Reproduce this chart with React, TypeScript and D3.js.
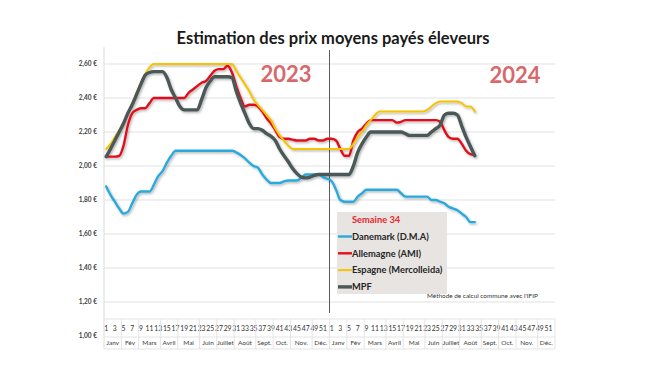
import { useEffect, useRef } from 'react';
import * as d3 from 'd3';

const months = ['Janv', 'Fév', 'Mars', 'Avril', 'Mai', 'Juin', 'Juillet', 'Août', 'Sept.', 'Oct.', 'Nov.', 'Déc.'];
const weeksPerMonth = [4, 4, 5, 4, 5, 4, 4, 5, 4, 4, 5, 4];
const years = ['2023', '2024'];
const yTicks = [1.0, 1.2, 1.4, 1.6, 1.8, 2.0, 2.2, 2.4, 2.6];

// semaines 1..52 de 2023, puis 1..34 de 2024
const danemark2023 = [
  1.88, 1.83, 1.79, 1.75, 1.72, 1.73, 1.78, 1.83, 1.85, 1.85, 1.85, 1.89, 1.94, 1.97, 2.02, 2.06, 2.09,
  2.09, 2.09, 2.09, 2.09, 2.09, 2.09, 2.09, 2.09, 2.09, 2.09, 2.09, 2.09, 2.09, 2.08, 2.065, 2.045, 2.02,
  2.0, 1.99, 1.95, 1.92, 1.9, 1.9, 1.9, 1.91, 1.915, 1.915, 1.915, 1.93, 1.95, 1.95, 1.95, 1.95, 1.935, 1.925,
];
const danemark2024 = [
  1.91, 1.86, 1.8, 1.79, 1.79, 1.79, 1.82, 1.84, 1.86, 1.86, 1.86, 1.86, 1.86, 1.86, 1.86, 1.86, 1.84,
  1.82, 1.82, 1.82, 1.82, 1.82, 1.82, 1.8, 1.8, 1.79, 1.78, 1.76, 1.75, 1.74, 1.72, 1.7, 1.67, 1.67,
];
const allemagne2023 = [
  2.055, 2.055, 2.055, 2.06, 2.12, 2.24, 2.31, 2.33, 2.34, 2.34, 2.37, 2.4, 2.4, 2.4, 2.4, 2.4, 2.4, 2.4,
  2.4, 2.43, 2.45, 2.47, 2.49, 2.5, 2.53, 2.56, 2.57, 2.57, 2.59, 2.55, 2.47, 2.4, 2.35, 2.36, 2.36, 2.35,
  2.32, 2.28, 2.25, 2.21, 2.17, 2.16, 2.16, 2.155, 2.15, 2.15, 2.15, 2.16, 2.16, 2.15, 2.15, 2.16,
];
const allemagne2024 = [
  2.16, 2.15, 2.1, 2.06, 2.06, 2.15, 2.2, 2.22, 2.25, 2.27, 2.27, 2.27, 2.27, 2.27, 2.27, 2.255, 2.26,
  2.27, 2.27, 2.27, 2.27, 2.27, 2.27, 2.27, 2.27, 2.26, 2.21, 2.17, 2.16, 2.16, 2.13, 2.09, 2.07, 2.065,
];
const espagne2023 = [
  2.1, 2.13, 2.17, 2.21, 2.26, 2.31, 2.37, 2.43, 2.49, 2.54, 2.58, 2.6, 2.6, 2.6, 2.6, 2.6, 2.6, 2.6,
  2.6, 2.6, 2.6, 2.6, 2.6, 2.6, 2.6, 2.6, 2.6, 2.6, 2.6, 2.6, 2.56, 2.52, 2.48, 2.44, 2.39, 2.36, 2.33,
  2.3, 2.27, 2.22, 2.18, 2.15, 2.12, 2.1, 2.1, 2.1, 2.1, 2.1, 2.1, 2.1, 2.1, 2.1,
];
const espagne2024 = [
  2.1, 2.1, 2.1, 2.1, 2.1, 2.13, 2.17, 2.2, 2.24, 2.27, 2.3, 2.32, 2.32, 2.32, 2.32, 2.32, 2.32, 2.32,
  2.32, 2.32, 2.32, 2.32, 2.33, 2.35, 2.37, 2.38, 2.38, 2.38, 2.38, 2.38, 2.37, 2.35, 2.35, 2.32,
];
const mpf2023 = [
  2.055, 2.1, 2.15, 2.2, 2.25, 2.31, 2.36, 2.42, 2.48, 2.535, 2.55, 2.555, 2.555, 2.555, 2.52, 2.45, 2.4,
  2.35, 2.33, 2.33, 2.33, 2.33, 2.39, 2.46, 2.5, 2.525, 2.525, 2.525, 2.525, 2.52, 2.44, 2.37, 2.31, 2.25,
  2.22, 2.22, 2.21, 2.19, 2.175, 2.15, 2.1, 2.06, 2.025, 1.985, 1.955, 1.935, 1.93, 1.935, 1.945, 1.95, 1.95, 1.95,
];
const mpf2024 = [
  1.95, 1.95, 1.95, 1.95, 1.95, 2.0, 2.08, 2.13, 2.17, 2.2, 2.2, 2.2, 2.2, 2.2, 2.2, 2.2, 2.2, 2.19,
  2.18, 2.18, 2.18, 2.18, 2.18, 2.2, 2.22, 2.24, 2.3, 2.31, 2.31, 2.3, 2.235, 2.17, 2.115, 2.06,
];

const series = [
  { name: 'Danemark (D.M.A)', color: '#2aa9dd', width: 2.4, values: danemark2023.concat(danemark2024) },
  { name: 'Allemagne (AMI)', color: '#e2111b', width: 2.4, values: allemagne2023.concat(allemagne2024) },
  { name: 'Espagne (Mercolleida)', color: '#f7c300', width: 2, values: espagne2023.concat(espagne2024) },
  { name: 'MPF', color: '#4b5858', width: 3.4, values: mpf2023.concat(mpf2024) },
];

const FONT = 'Lato, "Open Sans", sans-serif';

const App = () => {
  const svgRef = useRef<SVGSVGElement>(null);

  useEffect(() => {
    const svg = d3.select(svgRef.current);
    svg.selectAll('*').remove();

    const nWeeks = 52 * years.length;
    const x = d3.scaleBand<number>().domain(d3.range(nWeeks)).range([104, 555]);
    const bw = x.bandwidth();
    const cx = (i: number) => (x(i) as number) + bw / 2;
    const y = d3.scaleLinear().domain([1, 2.6]).range([336, 64]);

    const defs = svg.append('defs');
    const f = defs.append('filter').attr('id', 'shadow').attr('x', '-10%').attr('y', '-10%').attr('width', '120%').attr('height', '130%');
    f.append('feDropShadow').attr('dx', 1.2).attr('dy', 1.4).attr('stdDeviation', 0.8).attr('flood-color', '#000').attr('flood-opacity', 0.3);

    svg.append('text').attr('x', 333).attr('y', 44).attr('text-anchor', 'middle')
      .attr('font-family', FONT).attr('font-weight', 700).attr('font-size', 16.5).attr('fill', '#1a1a1a')
      .text('Estimation des prix moyens payés éleveurs');

    // axe vertical + grille
    svg.append('line').attr('x1', 104).attr('x2', 104).attr('y1', 47).attr('y2', 349).attr('stroke', '#d9d9d9');
    const grid = svg.append('g');
    yTicks.forEach((t) => {
      if (t > 1) {
        grid.append('line').attr('x1', 104).attr('x2', 555).attr('y1', y(t)).attr('y2', y(t))
          .attr('stroke', '#e1e1e1').attr('stroke-width', 1);
      }
      grid.append('text').attr('x', 97).attr('y', y(t)).attr('dy', '0.35em').attr('text-anchor', 'end')
        .attr('font-family', FONT).attr('font-weight', 700).attr('font-size', 6.5).attr('fill', '#404040')
        .text(`${d3.format('.2f')(t).replace('.', ',')} €`);
    });

    // tableau des catégories
    const table = svg.append('g');
    [319, 337, 349].forEach((yy) => {
      table.append('line').attr('x1', 104).attr('x2', 555).attr('y1', yy).attr('y2', yy).attr('stroke', '#e4e4e4');
    });
    d3.range(nWeeks).forEach((i) => {
      if (i % 2 === 0) {
        table.append('text').attr('x', cx(i)).attr('y', 330.5).attr('text-anchor', 'middle')
          .attr('font-family', FONT).attr('font-size', 6.8).attr('fill', '#333')
          .text(String((i % 52) + 1));
      }
    });
    years.forEach((_, yi) => {
      let start = yi * 52;
      months.forEach((m, mi) => {
        const end = start + weeksPerMonth[mi];
        const x0 = x(start) as number;
        const x1 = end >= nWeeks ? 555 : (x(end) as number);
        table.append('text').attr('x', (x0 + x1) / 2).attr('y', 345).attr('text-anchor', 'middle')
          .attr('font-family', FONT).attr('font-size', 6.5).attr('fill', '#404040').text(m);
        table.append('line').attr('x1', x1).attr('x2', x1).attr('y1', 319).attr('y2', 349).attr('stroke', '#e4e4e4');
        start = end;
      });
    });

    // années
    svg.append('text').attr('x', 286).attr('y', 82).attr('text-anchor', 'middle')
      .attr('font-family', FONT).attr('font-weight', 700).attr('font-size', 22).attr('fill', '#d9686c').text(years[0]);
    svg.append('text').attr('x', 515).attr('y', 83).attr('text-anchor', 'middle')
      .attr('font-family', FONT).attr('font-weight', 700).attr('font-size', 22).attr('fill', '#d9686c').text(years[1]);

    // séparateur d'années
    const sep = x(52) as number;
    svg.append('line').attr('x1', sep).attr('x2', sep).attr('y1', 50).attr('y2', 313).attr('stroke', '#5a5a5a').attr('stroke-width', 1);

    const line = d3.line<number>().x((_, i) => cx(i)).y((d) => y(d)).curve(d3.curveMonotoneX);
    const lines = svg.append('g').attr('filter', 'url(#shadow)');
    series.forEach((s) => {
      lines.append('path').attr('d', line(s.values)).attr('fill', 'none').attr('stroke', s.color)
        .attr('stroke-width', s.width).attr('stroke-linejoin', 'round').attr('stroke-linecap', 'round');
    });

    // légende
    const lg = svg.append('g');
    lg.append('rect').attr('x', 337).attr('y', 212).attr('width', 110).attr('height', 82).attr('fill', '#e7e4e1');
    lg.append('text').attr('x', 352).attr('y', 222.5).attr('font-family', FONT).attr('font-weight', 700)
      .attr('font-size', 9.3).attr('fill', '#e8262b').text('Semaine 34');
    series.forEach((s, i) => {
      const yy = 236.5 + i * 16.8;
      lg.append('line').attr('x1', 338).attr('x2', 352).attr('y1', yy).attr('y2', yy)
        .attr('stroke', s.color).attr('stroke-width', s.width);
      lg.append('text').attr('x', 352).attr('y', yy).attr('dy', '0.35em').attr('font-family', FONT)
        .attr('font-weight', 700).attr('font-size', 9.3).attr('fill', '#262626').text(s.name);
    });

    svg.append('text').attr('x', 427).attr('y', 297.5).attr('font-family', FONT).attr('font-size', 6.4)
      .attr('fill', '#333').text("Méthode de calcul commune avec l'IFIP");
  }, []);

  return (
    <svg
      ref={svgRef}
      width={650}
      height={366}
      style={{ position: 'absolute', left: 0, top: 0, background: '#fff' }}
    />
  );
};

export default App;
